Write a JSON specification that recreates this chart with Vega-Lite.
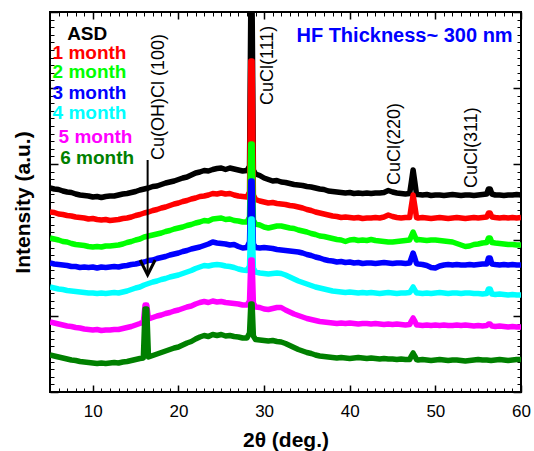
{
"$schema": "https://vega.github.io/schema/vega-lite/v6.json",
"width": 471, "height": 380,
"autosize": {"type": "none"},
"padding": {"left": 50, "top": 12, "right": 13, "bottom": 59},
"background": "white",
"config": {"view": {"stroke": "black", "strokeWidth": 2}, "font": "Liberation Sans"},
"datasets": {
"asd": [{"x":5,"y":204},{"x":5.5,"y":203},{"x":6,"y":202.5},{"x":6.5,"y":201},{"x":7,"y":200},{"x":7.5,"y":199.5},{"x":8,"y":198},{"x":8.5,"y":197},{"x":9,"y":196.5},{"x":9.5,"y":196},{"x":10,"y":195},{"x":10.5,"y":195.5},{"x":11,"y":194.5},{"x":11.5,"y":195.5},{"x":12,"y":196},{"x":12.5,"y":196},{"x":13,"y":197},{"x":13.5,"y":198},{"x":14,"y":198.5},{"x":14.5,"y":199.5},{"x":15,"y":200.5},{"x":15.5,"y":202},{"x":16,"y":203},{"x":16.5,"y":204},{"x":17,"y":205.5},{"x":17.5,"y":206},{"x":18,"y":207.5},{"x":18.5,"y":209},{"x":19,"y":210},{"x":19.5,"y":211},{"x":20,"y":212.5},{"x":20.5,"y":214},{"x":21,"y":215},{"x":21.5,"y":217},{"x":22,"y":219},{"x":22.5,"y":220},{"x":23,"y":221.5},{"x":23.5,"y":221},{"x":24,"y":222.5},{"x":24.5,"y":223.5},{"x":25,"y":224},{"x":25.5,"y":222.5},{"x":26,"y":224},{"x":26.5,"y":223},{"x":27,"y":222},{"x":27.5,"y":221},{"x":28,"y":221.5},{"x":28.3,"y":226},{"x":28.45,"y":386},{"x":28.6,"y":386},{"x":28.75,"y":222},{"x":29,"y":218},{"x":29.5,"y":216.5},{"x":30,"y":214},{"x":30.5,"y":212.5},{"x":31,"y":211},{"x":31.5,"y":211.5},{"x":32,"y":210},{"x":32.5,"y":209.5},{"x":33,"y":208.5},{"x":33.5,"y":207.5},{"x":34,"y":207},{"x":34.5,"y":206.5},{"x":35,"y":205.5},{"x":35.5,"y":205},{"x":36,"y":204},{"x":36.5,"y":203},{"x":37,"y":202.5},{"x":37.5,"y":201},{"x":38,"y":200.5},{"x":38.5,"y":200},{"x":39,"y":199.5},{"x":39.5,"y":199},{"x":40,"y":199.5},{"x":40.5,"y":198.5},{"x":41,"y":199},{"x":41.5,"y":198.5},{"x":42,"y":199},{"x":42.5,"y":198.5},{"x":43,"y":199},{"x":43.5,"y":199},{"x":44,"y":199.5},{"x":44.5,"y":201.5},{"x":45,"y":200},{"x":45.5,"y":199},{"x":46,"y":198.5},{"x":46.5,"y":198},{"x":47,"y":198.5},{"x":47.2,"y":210},{"x":47.4,"y":222},{"x":47.6,"y":210},{"x":47.8,"y":197.5},{"x":48,"y":197.5},{"x":48.5,"y":197},{"x":49,"y":197.5},{"x":49.5,"y":196.5},{"x":50,"y":197},{"x":50.5,"y":197},{"x":51,"y":196.5},{"x":51.5,"y":197},{"x":52,"y":197.5},{"x":52.5,"y":197},{"x":53,"y":196.5},{"x":53.5,"y":197},{"x":54,"y":197},{"x":54.5,"y":196.5},{"x":55,"y":197},{"x":55.5,"y":197.5},{"x":56,"y":198},{"x":56.2,"y":203},{"x":56.4,"y":203},{"x":56.6,"y":198},{"x":57,"y":197},{"x":57.5,"y":197},{"x":58,"y":196.5},{"x":58.5,"y":197},{"x":59,"y":197},{"x":59.5,"y":197.5},{"x":60,"y":197}],
"m1": [{"x":5,"y":180},{"x":5.5,"y":179.5},{"x":6,"y":178},{"x":6.5,"y":177.5},{"x":7,"y":176.5},{"x":7.5,"y":176},{"x":8,"y":175},{"x":8.5,"y":174.5},{"x":9,"y":174},{"x":9.5,"y":173},{"x":10,"y":173.5},{"x":10.5,"y":172.5},{"x":11,"y":172},{"x":11.5,"y":172.5},{"x":12,"y":171.5},{"x":12.5,"y":172},{"x":13,"y":172.5},{"x":13.5,"y":173.5},{"x":14,"y":174},{"x":14.5,"y":175},{"x":15,"y":176.5},{"x":15.5,"y":177.5},{"x":16,"y":179},{"x":16.5,"y":180},{"x":17,"y":181.5},{"x":17.5,"y":182.5},{"x":18,"y":184},{"x":18.5,"y":185},{"x":19,"y":186.5},{"x":19.5,"y":188},{"x":20,"y":189},{"x":20.5,"y":190.5},{"x":21,"y":191.5},{"x":21.5,"y":193},{"x":22,"y":194},{"x":22.5,"y":195.5},{"x":23,"y":196},{"x":23.5,"y":197},{"x":24,"y":198.5},{"x":24.5,"y":198},{"x":25,"y":199},{"x":25.5,"y":198},{"x":26,"y":198.5},{"x":26.5,"y":197},{"x":27,"y":196},{"x":27.5,"y":195.5},{"x":28,"y":195},{"x":28.3,"y":200},{"x":28.45,"y":331},{"x":28.6,"y":331},{"x":28.75,"y":197},{"x":29,"y":192.5},{"x":29.5,"y":191},{"x":30,"y":190},{"x":30.5,"y":189},{"x":31,"y":189.5},{"x":31.5,"y":188.5},{"x":32,"y":188},{"x":32.5,"y":187.5},{"x":33,"y":186.5},{"x":33.5,"y":186},{"x":34,"y":185},{"x":34.5,"y":184},{"x":35,"y":182.5},{"x":35.5,"y":181.5},{"x":36,"y":180},{"x":36.5,"y":179},{"x":37,"y":178},{"x":37.5,"y":177},{"x":38,"y":176},{"x":38.5,"y":175.5},{"x":39,"y":174.5},{"x":39.5,"y":175},{"x":40,"y":174.5},{"x":40.5,"y":174},{"x":41,"y":174.5},{"x":41.5,"y":173.5},{"x":42,"y":174},{"x":42.5,"y":174},{"x":43,"y":174.5},{"x":43.5,"y":174},{"x":44,"y":175},{"x":44.5,"y":177},{"x":45,"y":175.5},{"x":45.5,"y":174.5},{"x":46,"y":174},{"x":46.5,"y":174.5},{"x":47,"y":174.5},{"x":47.2,"y":186},{"x":47.4,"y":197},{"x":47.6,"y":186},{"x":47.8,"y":174.5},{"x":48,"y":174},{"x":48.5,"y":174.5},{"x":49,"y":174},{"x":49.5,"y":173.5},{"x":50,"y":174},{"x":50.5,"y":174.5},{"x":51,"y":174},{"x":51.5,"y":173.5},{"x":52,"y":174},{"x":52.5,"y":174.5},{"x":53,"y":174},{"x":53.5,"y":173.5},{"x":54,"y":174},{"x":54.5,"y":174.5},{"x":55,"y":174},{"x":55.5,"y":174.5},{"x":56,"y":175},{"x":56.2,"y":179},{"x":56.4,"y":179},{"x":56.6,"y":175},{"x":57,"y":174.5},{"x":57.5,"y":174},{"x":58,"y":174.5},{"x":58.5,"y":174},{"x":59,"y":174.5},{"x":59.5,"y":174},{"x":60,"y":174.5}],
"m2": [{"x":5,"y":154},{"x":5.5,"y":153},{"x":6,"y":152},{"x":6.5,"y":150.5},{"x":7,"y":150},{"x":7.5,"y":148.5},{"x":8,"y":147.5},{"x":8.5,"y":147},{"x":9,"y":146.5},{"x":9.5,"y":145.5},{"x":10,"y":145},{"x":10.5,"y":145.5},{"x":11,"y":145},{"x":11.5,"y":146},{"x":12,"y":146},{"x":12.5,"y":146.5},{"x":13,"y":147},{"x":13.5,"y":148},{"x":14,"y":149.5},{"x":14.5,"y":150.5},{"x":15,"y":152},{"x":15.5,"y":153},{"x":16,"y":155},{"x":16.5,"y":156},{"x":17,"y":157},{"x":17.5,"y":158},{"x":18,"y":159},{"x":18.5,"y":160.5},{"x":19,"y":161.5},{"x":19.5,"y":163},{"x":20,"y":164},{"x":20.5,"y":165},{"x":21,"y":166.5},{"x":21.5,"y":167.5},{"x":22,"y":169},{"x":22.5,"y":170},{"x":23,"y":171.5},{"x":23.5,"y":171},{"x":24,"y":173},{"x":24.5,"y":173.5},{"x":25,"y":174},{"x":25.5,"y":172.5},{"x":26,"y":173},{"x":26.5,"y":171.5},{"x":27,"y":171},{"x":27.5,"y":170},{"x":28,"y":170},{"x":28.3,"y":175},{"x":28.45,"y":248},{"x":28.6,"y":248},{"x":28.75,"y":172},{"x":29,"y":168},{"x":29.5,"y":167},{"x":30,"y":165},{"x":30.5,"y":164},{"x":31,"y":165},{"x":31.5,"y":166},{"x":32,"y":166},{"x":32.5,"y":165},{"x":33,"y":164},{"x":33.5,"y":163.5},{"x":34,"y":162},{"x":34.5,"y":161},{"x":35,"y":160},{"x":35.5,"y":158.5},{"x":36,"y":157.5},{"x":36.5,"y":156},{"x":37,"y":155.5},{"x":37.5,"y":154.5},{"x":38,"y":153.5},{"x":38.5,"y":152.5},{"x":39,"y":152},{"x":39.5,"y":150.5},{"x":40,"y":152},{"x":40.5,"y":152.5},{"x":41,"y":151.5},{"x":41.5,"y":152},{"x":42,"y":151.5},{"x":42.5,"y":152.5},{"x":43,"y":151.5},{"x":43.5,"y":151},{"x":44,"y":150.5},{"x":44.5,"y":150},{"x":45,"y":150},{"x":45.5,"y":150.5},{"x":46,"y":151},{"x":46.5,"y":151.5},{"x":47,"y":152},{"x":47.2,"y":156},{"x":47.4,"y":160},{"x":47.6,"y":156},{"x":47.8,"y":152},{"x":48,"y":152.5},{"x":48.5,"y":152},{"x":49,"y":151.5},{"x":49.5,"y":152},{"x":50,"y":152},{"x":50.5,"y":151.5},{"x":51,"y":151},{"x":51.5,"y":150.5},{"x":52,"y":150},{"x":52.5,"y":148.5},{"x":53,"y":147},{"x":53.5,"y":145.5},{"x":54,"y":146},{"x":54.5,"y":147.5},{"x":55,"y":148},{"x":55.5,"y":149},{"x":56,"y":149.5},{"x":56.2,"y":154},{"x":56.4,"y":154},{"x":56.6,"y":149.5},{"x":57,"y":149},{"x":57.5,"y":148.5},{"x":58,"y":148},{"x":58.5,"y":147.5},{"x":59,"y":147.5},{"x":59.5,"y":147},{"x":60,"y":147}],
"m3": [{"x":5,"y":129},{"x":5.5,"y":128},{"x":6,"y":127.5},{"x":6.5,"y":127},{"x":7,"y":126.5},{"x":7.5,"y":125.5},{"x":8,"y":125.5},{"x":8.5,"y":124.5},{"x":9,"y":125},{"x":9.5,"y":124.5},{"x":10,"y":125},{"x":10.5,"y":124},{"x":11,"y":125},{"x":11.5,"y":124.5},{"x":12,"y":125},{"x":12.5,"y":125.5},{"x":13,"y":125},{"x":13.5,"y":126},{"x":14,"y":126.5},{"x":14.5,"y":127.5},{"x":15,"y":128},{"x":15.5,"y":129},{"x":16,"y":130},{"x":16.5,"y":131.5},{"x":17,"y":132},{"x":17.5,"y":133.5},{"x":18,"y":134.5},{"x":18.5,"y":135.5},{"x":19,"y":137},{"x":19.5,"y":138},{"x":20,"y":139},{"x":20.5,"y":140.5},{"x":21,"y":141.5},{"x":21.5,"y":143},{"x":22,"y":144},{"x":22.5,"y":145},{"x":23,"y":146.5},{"x":23.5,"y":148},{"x":24,"y":150},{"x":24.5,"y":149},{"x":25,"y":148.5},{"x":25.5,"y":148},{"x":26,"y":147},{"x":26.5,"y":147.5},{"x":27,"y":145.5},{"x":27.5,"y":144},{"x":28,"y":144.5},{"x":28.3,"y":150},{"x":28.45,"y":211},{"x":28.6,"y":211},{"x":28.75,"y":148},{"x":29,"y":144.5},{"x":29.5,"y":144},{"x":30,"y":144.5},{"x":30.5,"y":144},{"x":31,"y":143.5},{"x":31.5,"y":142.5},{"x":32,"y":142},{"x":32.5,"y":141.5},{"x":33,"y":141},{"x":33.5,"y":140.5},{"x":34,"y":140},{"x":34.5,"y":139},{"x":35,"y":137.5},{"x":35.5,"y":136.5},{"x":36,"y":135},{"x":36.5,"y":134},{"x":37,"y":132.5},{"x":37.5,"y":131.5},{"x":38,"y":131},{"x":38.5,"y":130},{"x":39,"y":130.5},{"x":39.5,"y":129.5},{"x":40,"y":130},{"x":40.5,"y":129},{"x":41,"y":129.5},{"x":41.5,"y":128.5},{"x":42,"y":129},{"x":42.5,"y":129},{"x":43,"y":128.5},{"x":43.5,"y":129},{"x":44,"y":129.5},{"x":44.5,"y":129},{"x":45,"y":128.5},{"x":45.5,"y":129},{"x":46,"y":129},{"x":46.5,"y":128.5},{"x":47,"y":129},{"x":47.2,"y":134},{"x":47.4,"y":139},{"x":47.6,"y":134},{"x":47.8,"y":128.5},{"x":48,"y":128},{"x":48.5,"y":127.5},{"x":49,"y":126.5},{"x":49.5,"y":124.5},{"x":50,"y":124},{"x":50.5,"y":126},{"x":51,"y":127},{"x":51.5,"y":127.5},{"x":52,"y":127},{"x":52.5,"y":127.5},{"x":53,"y":127},{"x":53.5,"y":127},{"x":54,"y":127.5},{"x":54.5,"y":127},{"x":55,"y":127.5},{"x":55.5,"y":128},{"x":56,"y":128},{"x":56.2,"y":134},{"x":56.4,"y":134},{"x":56.6,"y":128},{"x":57,"y":127.5},{"x":57.5,"y":127},{"x":58,"y":127.5},{"x":58.5,"y":127},{"x":59,"y":127.5},{"x":59.5,"y":127},{"x":60,"y":127}],
"m4": [{"x":5,"y":105},{"x":5.5,"y":104},{"x":6,"y":103},{"x":6.5,"y":102.5},{"x":7,"y":101.5},{"x":7.5,"y":101},{"x":8,"y":100.5},{"x":8.5,"y":100},{"x":9,"y":99.5},{"x":9.5,"y":99},{"x":10,"y":99},{"x":10.5,"y":98.5},{"x":11,"y":99},{"x":11.5,"y":98.5},{"x":12,"y":99},{"x":12.5,"y":99.5},{"x":13,"y":99},{"x":13.5,"y":100},{"x":14,"y":101},{"x":14.5,"y":102.5},{"x":15,"y":104},{"x":15.5,"y":105},{"x":16,"y":107},{"x":16.5,"y":108.5},{"x":17,"y":110},{"x":17.5,"y":111},{"x":18,"y":112.5},{"x":18.5,"y":113.5},{"x":19,"y":115},{"x":19.5,"y":116},{"x":20,"y":117},{"x":20.5,"y":118.5},{"x":21,"y":120},{"x":21.5,"y":121.5},{"x":22,"y":123.5},{"x":22.5,"y":125},{"x":23,"y":126.5},{"x":23.5,"y":126},{"x":24,"y":127},{"x":24.5,"y":127.5},{"x":25,"y":127},{"x":25.5,"y":126},{"x":26,"y":125.5},{"x":26.5,"y":124.5},{"x":27,"y":123},{"x":27.5,"y":122},{"x":28,"y":121.5},{"x":28.3,"y":126},{"x":28.45,"y":173},{"x":28.6,"y":173},{"x":28.75,"y":124},{"x":29,"y":120},{"x":29.5,"y":119},{"x":30,"y":118.5},{"x":30.5,"y":118},{"x":31,"y":118.5},{"x":31.5,"y":119},{"x":32,"y":118.5},{"x":32.5,"y":117},{"x":33,"y":115},{"x":33.5,"y":113},{"x":34,"y":111},{"x":34.5,"y":109.5},{"x":35,"y":108},{"x":35.5,"y":106.5},{"x":36,"y":105},{"x":36.5,"y":104},{"x":37,"y":103},{"x":37.5,"y":102},{"x":38,"y":101},{"x":38.5,"y":100.5},{"x":39,"y":100},{"x":39.5,"y":99.5},{"x":40,"y":100},{"x":40.5,"y":99.5},{"x":41,"y":99},{"x":41.5,"y":99.5},{"x":42,"y":99},{"x":42.5,"y":99.5},{"x":43,"y":99},{"x":43.5,"y":98.5},{"x":44,"y":99},{"x":44.5,"y":99.5},{"x":45,"y":99},{"x":45.5,"y":98.5},{"x":46,"y":99},{"x":46.5,"y":99},{"x":47,"y":99.5},{"x":47.2,"y":102},{"x":47.4,"y":105},{"x":47.6,"y":102},{"x":47.8,"y":99},{"x":48,"y":99},{"x":48.5,"y":98.5},{"x":49,"y":99},{"x":49.5,"y":98.5},{"x":50,"y":99},{"x":50.5,"y":99.5},{"x":51,"y":99},{"x":51.5,"y":98.5},{"x":52,"y":99},{"x":52.5,"y":99},{"x":53,"y":98.5},{"x":53.5,"y":99},{"x":54,"y":99},{"x":54.5,"y":98.5},{"x":55,"y":98.5},{"x":55.5,"y":98},{"x":56,"y":98.5},{"x":56.2,"y":103},{"x":56.4,"y":103},{"x":56.6,"y":98},{"x":57,"y":97.5},{"x":57.5,"y":98},{"x":58,"y":97.5},{"x":58.5,"y":97},{"x":59,"y":97.5},{"x":59.5,"y":97},{"x":60,"y":97}],
"m5": [{"x":5,"y":70},{"x":5.5,"y":69},{"x":6,"y":68},{"x":6.5,"y":67},{"x":7,"y":66},{"x":7.5,"y":65.5},{"x":8,"y":64.5},{"x":8.5,"y":64},{"x":9,"y":63},{"x":9.5,"y":62.5},{"x":10,"y":62},{"x":10.5,"y":62.5},{"x":11,"y":61.5},{"x":11.5,"y":62},{"x":12,"y":62},{"x":12.5,"y":62.5},{"x":13,"y":62.5},{"x":13.5,"y":63.5},{"x":14,"y":64.5},{"x":14.5,"y":65.5},{"x":15,"y":67},{"x":15.5,"y":68.5},{"x":15.9,"y":70},{"x":16.1,"y":87},{"x":16.3,"y":87},{"x":16.5,"y":73},{"x":17,"y":74.5},{"x":17.5,"y":76},{"x":18,"y":77},{"x":18.5,"y":78.5},{"x":19,"y":79.5},{"x":19.5,"y":81},{"x":20,"y":82},{"x":20.5,"y":83.5},{"x":21,"y":85},{"x":21.5,"y":86},{"x":22,"y":88},{"x":22.5,"y":89.5},{"x":23,"y":90.5},{"x":23.5,"y":89.5},{"x":24,"y":91},{"x":24.5,"y":90},{"x":25,"y":90.5},{"x":25.5,"y":89.5},{"x":26,"y":89},{"x":26.5,"y":88.5},{"x":27,"y":88},{"x":27.5,"y":87},{"x":28,"y":87},{"x":28.3,"y":91},{"x":28.45,"y":132},{"x":28.6,"y":132},{"x":28.75,"y":89},{"x":29,"y":85},{"x":29.5,"y":84.5},{"x":30,"y":83},{"x":30.5,"y":82.5},{"x":31,"y":83.5},{"x":31.5,"y":84.5},{"x":32,"y":84.5},{"x":32.5,"y":82},{"x":33,"y":80},{"x":33.5,"y":78},{"x":34,"y":76.5},{"x":34.5,"y":75},{"x":35,"y":73.5},{"x":35.5,"y":72.5},{"x":36,"y":71.5},{"x":36.5,"y":70.5},{"x":37,"y":70},{"x":37.5,"y":69.5},{"x":38,"y":69},{"x":38.5,"y":68.5},{"x":39,"y":69},{"x":39.5,"y":68.5},{"x":40,"y":69},{"x":40.5,"y":68.5},{"x":41,"y":68},{"x":41.5,"y":68.5},{"x":42,"y":68.5},{"x":42.5,"y":68},{"x":43,"y":68.5},{"x":43.5,"y":68},{"x":44,"y":67.5},{"x":44.5,"y":68},{"x":45,"y":67.5},{"x":45.5,"y":68},{"x":46,"y":67.5},{"x":46.5,"y":67},{"x":47,"y":67.5},{"x":47.2,"y":71},{"x":47.4,"y":74},{"x":47.6,"y":71},{"x":47.8,"y":67},{"x":48,"y":67},{"x":48.5,"y":66.5},{"x":49,"y":67},{"x":49.5,"y":66.5},{"x":50,"y":67},{"x":50.5,"y":66.5},{"x":51,"y":67},{"x":51.5,"y":66.5},{"x":52,"y":66.5},{"x":52.5,"y":67},{"x":53,"y":66.5},{"x":53.5,"y":67},{"x":54,"y":66.5},{"x":54.5,"y":66},{"x":55,"y":66.5},{"x":55.5,"y":66},{"x":56,"y":66.5},{"x":56.2,"y":68},{"x":56.4,"y":68},{"x":56.6,"y":66},{"x":57,"y":65.5},{"x":57.5,"y":66},{"x":58,"y":65.5},{"x":58.5,"y":65},{"x":59,"y":65.5},{"x":59.5,"y":65},{"x":60,"y":65}],
"m6": [{"x":5,"y":37},{"x":5.5,"y":36},{"x":6,"y":35},{"x":6.5,"y":34},{"x":7,"y":33},{"x":7.5,"y":32},{"x":8,"y":31.5},{"x":8.5,"y":30.5},{"x":9,"y":30},{"x":9.5,"y":29.5},{"x":10,"y":29},{"x":10.5,"y":28.5},{"x":11,"y":29},{"x":11.5,"y":28.5},{"x":12,"y":29},{"x":12.5,"y":29.5},{"x":13,"y":29},{"x":13.5,"y":30},{"x":14,"y":30.5},{"x":14.5,"y":31.5},{"x":15,"y":32.5},{"x":15.5,"y":33.5},{"x":15.9,"y":34},{"x":16.1,"y":83},{"x":16.3,"y":83},{"x":16.5,"y":35},{"x":17,"y":36.5},{"x":17.5,"y":38},{"x":18,"y":39.5},{"x":18.5,"y":41},{"x":19,"y":42.5},{"x":19.5,"y":44},{"x":20,"y":45},{"x":20.5,"y":47},{"x":21,"y":49},{"x":21.5,"y":50.5},{"x":22,"y":53},{"x":22.5,"y":55},{"x":23,"y":56.5},{"x":23.5,"y":55.5},{"x":24,"y":57.5},{"x":24.5,"y":56.5},{"x":25,"y":57.5},{"x":25.5,"y":56},{"x":26,"y":56.5},{"x":26.5,"y":55.5},{"x":27,"y":55},{"x":27.5,"y":54},{"x":28,"y":54},{"x":28.3,"y":59},{"x":28.45,"y":88},{"x":28.6,"y":88},{"x":28.75,"y":56},{"x":29,"y":52.5},{"x":29.5,"y":52},{"x":30,"y":51.5},{"x":30.5,"y":51},{"x":31,"y":51.5},{"x":31.5,"y":50.5},{"x":32,"y":50},{"x":32.5,"y":48.5},{"x":33,"y":46.5},{"x":33.5,"y":44.5},{"x":34,"y":42.5},{"x":34.5,"y":41},{"x":35,"y":39.5},{"x":35.5,"y":38.5},{"x":36,"y":37},{"x":36.5,"y":36},{"x":37,"y":35.5},{"x":37.5,"y":35},{"x":38,"y":34.5},{"x":38.5,"y":34},{"x":39,"y":34.5},{"x":39.5,"y":34},{"x":40,"y":33.5},{"x":40.5,"y":34},{"x":41,"y":34.5},{"x":41.5,"y":34},{"x":42,"y":33.5},{"x":42.5,"y":34},{"x":43,"y":33.5},{"x":43.5,"y":33},{"x":44,"y":33.5},{"x":44.5,"y":33},{"x":45,"y":33},{"x":45.5,"y":32.5},{"x":46,"y":33},{"x":46.5,"y":32.5},{"x":47,"y":32.5},{"x":47.2,"y":36},{"x":47.4,"y":39},{"x":47.6,"y":36},{"x":47.8,"y":32.5},{"x":48,"y":32},{"x":48.5,"y":32.5},{"x":49,"y":32},{"x":49.5,"y":31.5},{"x":50,"y":32},{"x":50.5,"y":32.5},{"x":51,"y":32},{"x":51.5,"y":31.5},{"x":52,"y":32},{"x":52.5,"y":32},{"x":53,"y":31.5},{"x":53.5,"y":31},{"x":54,"y":31.5},{"x":54.5,"y":32},{"x":55,"y":32.5},{"x":55.5,"y":32},{"x":56,"y":32},{"x":56.5,"y":31.5},{"x":57,"y":32},{"x":57.5,"y":32.5},{"x":58,"y":32},{"x":58.5,"y":31.5},{"x":59,"y":32},{"x":59.5,"y":32.5},{"x":60,"y":32.5}],
"legend": [{"x":7.0,"y":358,"label":"ASD"},{"x":5.3,"y":339,"label":"1 month"},{"x":5.3,"y":320,"label":"2 month"},{"x":5.3,"y":299,"label":"3 month"},{"x":5.3,"y":279,"label":"4 month"},{"x":6.0,"y":255,"label":"5 month"},{"x":6.2,"y":234,"label":"6 month"}],
"annot": [{"x":17.75,"y":232,"label":"Cu(OH)Cl (100)"},{"x":30.4,"y":287,"label":"CuCl(111)"},{"x":45.3,"y":207,"label":"CuCl(220)"},{"x":54.3,"y":204,"label":"CuCl(311)"}],
"title": [{"x":46.4,"y":356,"label":"HF Thickness~ 300 nm"}],
"arrow": [{"x":16.4,"top":232,"bottom":120,"tip":117}]
},
"resolve": {"axis": {"x": "independent", "y": "independent"}},
"layer": [
{"data": {"name": "asd"}, "mark": {"type": "line", "strokeWidth": 5.5, "clip": true, "strokeJoin": "round"},
 "encoding": {
  "x": {"field": "x", "type": "quantitative", "scale": {"domain": [5, 60], "nice": false, "zero": false},
   "axis": {"orient": "bottom", "values": [10,20,30,40,50,60], "tickSize": -7, "tickWidth": 1.5, "tickColor": "black", "domain": false, "grid": false, "labelFontSize": 17, "labelColor": "black", "labelPadding": 18, "labelFlush": false, "title": "2θ (deg.)", "titleFontSize": 21, "titleFontWeight": "bold", "titleColor": "black", "titlePadding": 10}},
  "y": {"field": "y", "type": "quantitative", "scale": {"domain": [0, 380], "nice": false, "zero": false},
   "axis": {"orient": "left", "values": [0,76,152,228,304,380], "tickSize": -8, "tickWidth": 1.5, "tickColor": "black", "domain": false, "grid": false, "labels": false, "title": "Intensity (a.u.)", "titleFontSize": 21, "titleFontWeight": "bold", "titleColor": "black", "titlePadding": 16}},
  "color": {"datum": "ASD", "type": "nominal", "scale": {"domain": ["ASD","1 month","2 month","3 month","4 month","5 month","6 month"], "range": ["#000000","#ff0000","#00ff00","#0000ff","#00ffff","#ff00ff","#008000"]}, "legend": null}
 }},
{"data": {"name": "m1"}, "mark": {"type": "line", "strokeWidth": 5.5, "clip": true, "strokeJoin": "round"},
 "encoding": {
  "x": {"field": "x", "type": "quantitative", "axis": {"orient": "bottom", "values": [5,6,7,8,9,10,11,12,13,14,15,16,17,18,19,20,21,22,23,24,25,26,27,28,29,30,31,32,33,34,35,36,37,38,39,40,41,42,43,44,45,46,47,48,49,50,51,52,53,54,55,56,57,58,59,60], "tickSize": -4, "tickWidth": 1, "tickColor": "black", "domain": false, "grid": false, "labels": false, "title": null}},
  "y": {"field": "y", "type": "quantitative", "axis": {"orient": "left", "values": [0,7.6,15.2,22.8,30.4,38,45.6,53.2,60.8,68.4,76,83.6,91.2,98.8,106.4,114,121.6,129.2,136.8,144.4,152,159.6,167.2,174.8,182.4,190,197.6,205.2,212.8,220.4,228,235.6,243.2,250.8,258.4,266,273.6,281.2,288.8,296.4,304,311.6,319.2,326.8,334.4,342,349.6,357.2,364.8,372.4,380], "tickSize": -4, "tickWidth": 1, "tickColor": "black", "domain": false, "grid": false, "labels": false, "title": null}},
  "color": {"datum": "1 month", "type": "nominal", "legend": null}
 }},
{"data": {"name": "m2"}, "mark": {"type": "line", "strokeWidth": 5.5, "clip": true, "strokeJoin": "round"},
 "encoding": {
  "x": {"field": "x", "type": "quantitative", "axis": {"orient": "top", "values": [10,20,30,40,50,60], "tickSize": -7, "tickWidth": 1.5, "tickColor": "black", "domain": false, "grid": false, "labels": false, "title": null}},
  "y": {"field": "y", "type": "quantitative", "axis": {"orient": "right", "values": [0,76,152,228,304,380], "tickSize": -8, "tickWidth": 1.5, "tickColor": "black", "domain": false, "grid": false, "labels": false, "title": null}},
  "color": {"datum": "2 month", "type": "nominal", "legend": null}
 }},
{"data": {"name": "m3"}, "mark": {"type": "line", "strokeWidth": 5.5, "clip": true, "strokeJoin": "round"},
 "encoding": {
  "x": {"field": "x", "type": "quantitative", "axis": {"orient": "top", "values": [5,6,7,8,9,10,11,12,13,14,15,16,17,18,19,20,21,22,23,24,25,26,27,28,29,30,31,32,33,34,35,36,37,38,39,40,41,42,43,44,45,46,47,48,49,50,51,52,53,54,55,56,57,58,59,60], "tickSize": -4, "tickWidth": 1, "tickColor": "black", "domain": false, "grid": false, "labels": false, "title": null}},
  "y": {"field": "y", "type": "quantitative", "axis": {"orient": "right", "values": [0,7.6,15.2,22.8,30.4,38,45.6,53.2,60.8,68.4,76,83.6,91.2,98.8,106.4,114,121.6,129.2,136.8,144.4,152,159.6,167.2,174.8,182.4,190,197.6,205.2,212.8,220.4,228,235.6,243.2,250.8,258.4,266,273.6,281.2,288.8,296.4,304,311.6,319.2,326.8,334.4,342,349.6,357.2,364.8,372.4,380], "tickSize": -4, "tickWidth": 1, "tickColor": "black", "domain": false, "grid": false, "labels": false, "title": null}},
  "color": {"datum": "3 month", "type": "nominal", "legend": null}
 }},
{"data": {"name": "m4"}, "mark": {"type": "line", "strokeWidth": 5.5, "clip": true, "strokeJoin": "round"},
 "encoding": {"x": {"field": "x", "type": "quantitative", "axis": null}, "y": {"field": "y", "type": "quantitative", "axis": null}, "color": {"datum": "4 month", "type": "nominal", "legend": null}}},
{"data": {"name": "m5"}, "mark": {"type": "line", "strokeWidth": 5.5, "clip": true, "strokeJoin": "round"},
 "encoding": {"x": {"field": "x", "type": "quantitative", "axis": null}, "y": {"field": "y", "type": "quantitative", "axis": null}, "color": {"datum": "5 month", "type": "nominal", "legend": null}}},
{"data": {"name": "m6"}, "mark": {"type": "line", "strokeWidth": 5.5, "clip": true, "strokeJoin": "round"},
 "encoding": {"x": {"field": "x", "type": "quantitative", "axis": null}, "y": {"field": "y", "type": "quantitative", "axis": null}, "color": {"datum": "6 month", "type": "nominal", "legend": null}}},
{"data": {"name": "arrow"}, "mark": {"type": "rule", "strokeWidth": 2, "color": "black"},
 "encoding": {"x": {"field": "x", "type": "quantitative", "axis": null}, "y": {"field": "top", "type": "quantitative", "axis": null}, "y2": {"field": "bottom"}}},
{"data": {"name": "arrow"}, "mark": {"type": "point", "shape": "M-0.5,-1L0,0L0.5,-1", "filled": false, "stroke": "black", "strokeWidth": 3, "size": 900, "opacity": 1, "strokeJoin": "miter"},
 "encoding": {"x": {"field": "x", "type": "quantitative", "axis": null}, "y": {"field": "tip", "type": "quantitative", "axis": null}}},
{"data": {"name": "legend"}, "mark": {"type": "text", "fontSize": 19, "fontWeight": "bold", "align": "left", "baseline": "middle", "font": "Liberation Sans"},
 "encoding": {"x": {"field": "x", "type": "quantitative", "axis": null}, "y": {"field": "y", "type": "quantitative", "axis": null}, "text": {"field": "label"}, "color": {"field": "label", "type": "nominal", "legend": null}}},
{"data": {"name": "annot"}, "mark": {"type": "text", "fontSize": 18, "angle": 270, "align": "left", "baseline": "middle", "color": "black", "font": "Liberation Sans"},
 "encoding": {"x": {"field": "x", "type": "quantitative", "axis": null}, "y": {"field": "y", "type": "quantitative", "axis": null}, "text": {"field": "label"}}},
{"data": {"name": "title"}, "mark": {"type": "text", "fontSize": 20, "fontWeight": "bold", "align": "center", "baseline": "middle", "color": "#0000ff", "font": "Liberation Sans"},
 "encoding": {"x": {"field": "x", "type": "quantitative", "axis": null}, "y": {"field": "y", "type": "quantitative", "axis": null}, "text": {"field": "label"}}}
]
}
